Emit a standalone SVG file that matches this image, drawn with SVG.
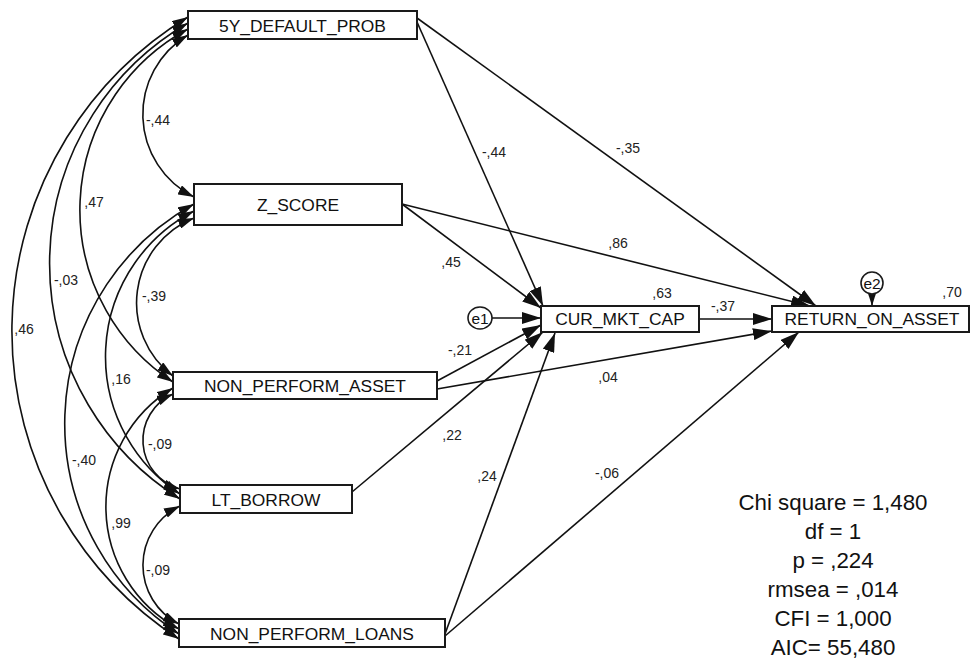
<svg xmlns="http://www.w3.org/2000/svg" width="971" height="660" viewBox="0 0 971 660">
  <style>
    .box { fill: #ffffff; stroke: #1a1a1a; stroke-width: 2; }
    .err { fill: #ffffff; stroke: #1a1a1a; stroke-width: 1.6; }
    .name { font-family: "Liberation Sans", Arial, sans-serif; font-size: 17.4px; fill: #111111; text-anchor: middle; }
    .ename { font-family: "Liberation Sans", Arial, sans-serif; font-size: 15.5px; fill: #111111; text-anchor: middle; }
    .path { fill: none; stroke: #111111; stroke-width: 1.6; marker-end: url(#head); }
    .cov { fill: none; stroke: #111111; stroke-width: 1.6; marker-start: url(#chead); marker-end: url(#chead); }
    .coef { font-family: "Liberation Sans", Arial, sans-serif; font-size: 14px; fill: #222222; text-anchor: middle; }
    .fit { font-family: "Liberation Sans", Arial, sans-serif; font-size: 22.3px; fill: #111111; text-anchor: middle; }
  </style>
  <defs>
    <marker id="head" markerUnits="userSpaceOnUse" markerWidth="19" markerHeight="12" viewBox="0 0 19 12" refX="19" refY="6" orient="auto">
      <path d="M0,0 L19,6 L0,12 Z" fill="#111111"/>
    </marker>
    <marker id="chead" markerUnits="userSpaceOnUse" markerWidth="16" markerHeight="10" viewBox="0 0 16 10" refX="16" refY="5" orient="auto-start-reverse">
      <path d="M0,0 L16,5 L0,10 Z" fill="#111111"/>
    </marker>
  </defs>

  <!-- covariances and regression paths -->
  <g id="connectors">
    <path class="cov" d="M188,35 A92.3,92.3 0 0 0 194,197"/>
    <path class="cov" d="M188,29 A205.5,205.5 0 0 0 173,382"/>
    <path class="cov" d="M188,23 A278,278 0 0 0 180,499"/>
    <path class="cov" d="M188,17 A367.7,367.7 0 0 0 179,639"/>
    <path class="cov" d="M194,218 A91.5,91.5 0 0 0 173,376"/>
    <path class="cov" d="M194,211 A164,164 0 0 0 180,494"/>
    <path class="cov" d="M194,204 A251,251 0 0 0 179,634"/>
    <path class="cov" d="M173,394 A50.6,50.6 0 0 0 180,489"/>
    <path class="cov" d="M173,388 A138.7,138.7 0 0 0 179,629"/>
    <path class="cov" d="M180,506 A65.9,65.9 0 0 0 179,624"/>

    <path class="path" d="M417,22 L543,306"/>
    <path class="path" d="M417,18 L816,306"/>
    <path class="path" d="M402,204 L541,308"/>
    <path class="path" d="M402,204 L810,306"/>
    <path class="path" d="M492,318 L541,318"/>
    <path class="path" d="M437,381 L541,325"/>
    <path class="path" d="M352,492 L543,332"/>
    <path class="path" d="M445,634 L555,333"/>
    <path class="path" d="M699,319 L772,319"/>
    <path class="path" d="M437,389 L772,331"/>
    <path class="path" d="M445,636 L799,332"/>
    <path class="path" d="M872,294 L872,306"/>

    <!-- covariance estimates -->
    <text class="coef" x="158" y="125">-,44</text>
    <text class="coef" x="94" y="207">,47</text>
    <text class="coef" x="66" y="285">-,03</text>
    <text class="coef" x="24" y="334">,46</text>
    <text class="coef" x="154" y="301">-,39</text>
    <text class="coef" x="121" y="384">,16</text>
    <text class="coef" x="84" y="465">-,40</text>
    <text class="coef" x="160" y="449">-,09</text>
    <text class="coef" x="121" y="528">,99</text>
    <text class="coef" x="158" y="575">-,09</text>

    <!-- path coefficients -->
    <text class="coef" x="494" y="157">-,44</text>
    <text class="coef" x="628" y="153">-,35</text>
    <text class="coef" x="451" y="267">,45</text>
    <text class="coef" x="618" y="248">,86</text>
    <text class="coef" x="723" y="311">-,37</text>
    <text class="coef" x="460" y="355">-,21</text>
    <text class="coef" x="608" y="382">,04</text>
    <text class="coef" x="452" y="440">,22</text>
    <text class="coef" x="487" y="481">,24</text>
    <text class="coef" x="607" y="478">-,06</text>
  </g>

  <g id="default_prob">
    <rect class="box" x="188" y="11" width="229" height="28"/>
    <text class="name" x="302.5" y="31.5">5Y_DEFAULT_PROB</text>
  </g>
  <g id="z_score">
    <rect class="box" x="194" y="184" width="208" height="41"/>
    <text class="name" x="298" y="211">Z_SCORE</text>
  </g>
  <g id="non_perform_asset">
    <rect class="box" x="173" y="372" width="264" height="27"/>
    <text class="name" x="305" y="392">NON_PERFORM_ASSET</text>
  </g>
  <g id="lt_borrow">
    <rect class="box" x="180" y="485" width="172" height="28"/>
    <text class="name" x="266" y="505.5">LT_BORROW</text>
  </g>
  <g id="non_perform_loans">
    <rect class="box" x="179" y="619" width="266" height="28"/>
    <text class="name" x="312" y="639.5">NON_PERFORM_LOANS</text>
  </g>
  <g id="cur_mkt_cap">
    <rect class="box" x="541" y="306" width="158" height="26"/>
    <text class="name" x="620" y="325">CUR_MKT_CAP</text>
    <text class="coef" x="662" y="298">,63</text>
  </g>
  <g id="return_on_asset">
    <rect class="box" x="772" y="306" width="197" height="26"/>
    <text class="name" x="872" y="325">RETURN_ON_ASSET</text>
    <text class="coef" x="952" y="297">,70</text>
  </g>
  <g id="e1">
    <ellipse class="err" cx="480" cy="318" rx="12" ry="11"/>
    <text class="ename" x="480" y="323.5">e1</text>
  </g>
  <g id="e2">
    <ellipse class="err" cx="872" cy="283" rx="11" ry="11"/>
    <text class="ename" x="872" y="288.5">e2</text>
  </g>

  <g id="fit_statistics">
    <text class="fit" x="833" y="510">Chi square = 1,480</text>
    <text class="fit" x="833" y="539">df = 1</text>
    <text class="fit" x="833" y="568">p = ,224</text>
    <text class="fit" x="833" y="597">rmsea = ,014</text>
    <text class="fit" x="833" y="626">CFI = 1,000</text>
    <text class="fit" x="833" y="655">AIC= 55,480</text>
  </g>
</svg>
